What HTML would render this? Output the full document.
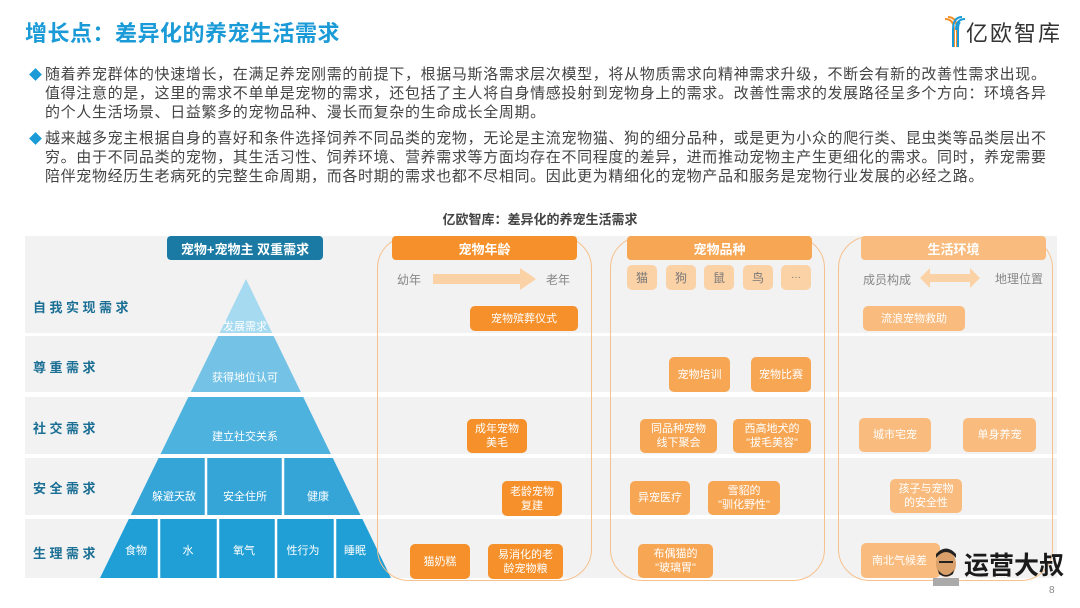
<!DOCTYPE html>
<html><head><meta charset="utf-8">
<style>
*{margin:0;padding:0;box-sizing:border-box}
body{width:1080px;height:608px;background:#fff;position:relative;overflow:hidden;font-family:"Liberation Sans","Noto Sans CJK SC",sans-serif}
.a{position:absolute}
.t{color:#1a9ad6;font-size:22px;font-weight:bold;left:25px;top:16px;letter-spacing:0.5px}
.p{left:45px;font-size:15px;line-height:19px;color:#444;width:1060px;letter-spacing:0.65px;white-space:nowrap}
.d{width:9px;height:9px;background:#1a9ad6;transform:rotate(45deg);left:31px}
.row{left:25px;width:1032px;background:#f2f2f2}
.rl{left:33px;font-size:13px;font-weight:bold;color:#1b6f94;letter-spacing:3.5px}
.b{color:#fff;font-size:11px;display:flex;align-items:center;justify-content:center;text-align:center;border-radius:5px;line-height:14px}
.o1{background:#f5902a}.o2{background:#f7a654}.o3{background:#f9bc7e}
.col{border:1.5px solid #f7c18f;border-radius:32px}
.h{color:#fff;font-weight:bold;font-size:13px;display:flex;align-items:center;justify-content:center;border-radius:4px}
.g{color:#888;font-size:12px}
</style></head><body>
<div class="a t">增长点：差异化的养宠生活需求</div>
<div class="a" style="left:944px;top:16px;width:22px;height:32px">
<svg width="22" height="32"><path d="M1 3 Q10 3 10 14 L10 31" stroke="#f5902a" stroke-width="2" fill="none"/><path d="M4 1 Q13 1 13 14 L13 31" stroke="#f5902a" stroke-width="2" fill="none"/><path d="M21 3 Q12 3 12 14" stroke="#1a9ad6" stroke-width="2" fill="none"/><path d="M18 1 Q9 1 9 14 L9 31" stroke="#1a9ad6" stroke-width="2" fill="none"/><path d="M16 6 Q14 8 14 14 L14 31" stroke="#1a9ad6" stroke-width="2" fill="none"/></svg></div>
<div class="a" style="left:966px;top:20px;font-size:22px;color:#333;letter-spacing:2px;line-height:28px">亿欧智库</div>

<div class="a d" style="top:70px"></div>
<div class="a p" style="top:65px">随着养宠群体的快速增长，在满足养宠刚需的前提下，根据马斯洛需求层次模型，将从物质需求向精神需求升级，不断会有新的改善性需求出现。<br>值得注意的是，这里的需求不单单是宠物的需求，还包括了主人将自身情感投射到宠物身上的需求。改善性需求的发展路径呈多个方向：环境各异<br>的个人生活场景、日益繁多的宠物品种、漫长而复杂的生命成长全周期。</div>
<div class="a d" style="top:134px"></div>
<div class="a p" style="top:129px">越来越多宠主根据自身的喜好和条件选择饲养不同品类的宠物，无论是主流宠物猫、狗的细分品种，或是更为小众的爬行类、昆虫类等品类层出不<br>穷。由于不同品类的宠物，其生活习性、饲养环境、营养需求等方面均存在不同程度的差异，进而推动宠物主产生更细化的需求。同时，养宠需要<br>陪伴宠物经历生老病死的完整生命周期，而各时期的需求也都不尽相同。因此更为精细化的宠物产品和服务是宠物行业发展的必经之路。</div>
<div class="a" style="left:0;width:1080px;top:209px;text-align:center;font-size:13px;font-weight:bold;color:#444">亿欧智库：差异化的养宠生活需求</div>

<div class="a row" style="top:236px;height:97px"></div>
<div class="a row" style="top:336px;height:56px"></div>
<div class="a row" style="top:397px;height:57px"></div>
<div class="a row" style="top:458px;height:57px"></div>
<div class="a row" style="top:519px;height:59px"></div>
<div class="a rl" style="top:297px">自我实现需求</div>
<div class="a rl" style="top:357px">尊重需求</div>
<div class="a rl" style="top:418px">社交需求</div>
<div class="a rl" style="top:478px">安全需求</div>
<div class="a rl" style="top:543px">生理需求</div>

<div class="a h" style="left:167px;top:236px;width:156px;height:24px;background:#1b7aa3;border-radius:4px">宠物+宠物主 双重需求</div>
<svg class="a" style="left:0;top:0" width="1080" height="608">
<defs><clipPath id="c"><polygon points="246,279 100,578 391,578"/></clipPath></defs>
<g clip-path="url(#c)">
<rect x="0" y="270" width="400" height="63" fill="#a6daf0"/>
<rect x="0" y="336" width="400" height="56" fill="#74c3e6"/>
<rect x="0" y="397" width="400" height="57" fill="#4eb2de"/>
<rect x="0" y="458" width="400" height="57" fill="#35a5d8"/>
<rect x="0" y="519" width="400" height="59" fill="#1f9fd5"/>
<g stroke="#fff" stroke-width="2.5"><line x1="206" y1="458" x2="206" y2="515"/><line x1="283" y1="458" x2="283" y2="515"/>
<line x1="159" y1="519" x2="159" y2="578"/><line x1="218" y1="519" x2="218" y2="578"/><line x1="276" y1="519" x2="276" y2="578"/><line x1="335" y1="519" x2="335" y2="578"/></g>
</g>
<g fill="#fff" font-size="11" text-anchor="middle" font-family="Liberation Sans,Noto Sans CJK SC,sans-serif">
<text x="245" y="330">发展需求</text><text x="245" y="381">获得地位认可</text><text x="245" y="440">建立社交关系</text>
<text x="174" y="500">躲避天敌</text><text x="245" y="500">安全住所</text><text x="318" y="500">健康</text>
<text x="136" y="554">食物</text><text x="188" y="554">水</text><text x="244" y="554">氧气</text><text x="303" y="554">性行为</text><text x="355" y="554">睡眠</text>
</g>
<polygon points="433,274 520,274 520,268 536,279 520,290 520,284 433,284" fill="#fbd1a6"/>
<polygon points="920,278 930,268 930,274 970,274 970,268 980,278 970,288 970,282 930,282 930,288" fill="#fbd1a6"/>
</svg>

<div class="a col" style="left:377px;top:236px;width:215px;height:345px"></div>
<div class="a col" style="left:610px;top:236px;width:215px;height:345px"></div>
<div class="a col" style="left:838px;top:236px;width:215px;height:345px"></div>
<div class="a h o1" style="left:392px;top:236px;width:185px;height:24px">宠物年龄</div>
<div class="a h o2" style="left:627px;top:236px;width:185px;height:24px">宠物品种</div>
<div class="a h o3" style="left:861px;top:236px;width:185px;height:24px">生活环境</div>
<div class="a g" style="left:397px;top:271px">幼年</div><div class="a g" style="left:546px;top:271px">老年</div>
<div class="a g" style="left:863px;top:271px">成员构成</div><div class="a g" style="left:995px;top:270px">地理位置</div>

<div class="a b" style="left:627px;top:265px;width:30px;height:25px;background:#fbd1a6;color:#777;font-size:12px">猫</div>
<div class="a b" style="left:666px;top:265px;width:30px;height:25px;background:#fbd1a6;color:#777;font-size:12px">狗</div>
<div class="a b" style="left:704px;top:265px;width:30px;height:25px;background:#fbd1a6;color:#777;font-size:12px">鼠</div>
<div class="a b" style="left:743px;top:265px;width:30px;height:25px;background:#fbd1a6;color:#777;font-size:12px">鸟</div>
<div class="a b" style="left:781px;top:265px;width:30px;height:25px;background:#fbd1a6;color:#777;font-size:10px">···</div>

<div class="a b o1" style="left:470px;top:306px;width:108px;height:25px">宠物殡葬仪式</div>
<div class="a b o1" style="left:467px;top:419px;width:60px;height:34px">成年宠物<br>美毛</div>
<div class="a b o1" style="left:502px;top:481px;width:60px;height:35px">老龄宠物<br>复建</div>
<div class="a b o1" style="left:410px;top:544px;width:60px;height:35px">猫奶糕</div>
<div class="a b o1" style="left:488px;top:544px;width:75px;height:35px">易消化的老<br>龄宠物粮</div>

<div class="a b o2" style="left:669px;top:357px;width:61px;height:35px">宠物培训</div>
<div class="a b o2" style="left:751px;top:357px;width:60px;height:35px">宠物比赛</div>
<div class="a b o2" style="left:640px;top:419px;width:77px;height:34px">同品种宠物<br>线下聚会</div>
<div class="a b o2" style="left:733px;top:419px;width:78px;height:34px">西高地犬的<br>"拔毛美容"</div>
<div class="a b o2" style="left:630px;top:481px;width:60px;height:34px">异宠医疗</div>
<div class="a b o2" style="left:708px;top:481px;width:72px;height:34px">雪貂的<br>"驯化野性"</div>
<div class="a b o2" style="left:638px;top:544px;width:75px;height:34px">布偶猫的<br>"玻璃胃"</div>

<div class="a b o3" style="left:863px;top:306px;width:102px;height:25px">流浪宠物救助</div>
<div class="a b o3" style="left:859px;top:418px;width:72px;height:34px">城市宅宠</div>
<div class="a b o3" style="left:963px;top:418px;width:73px;height:34px">单身养宠</div>
<div class="a b o3" style="left:890px;top:479px;width:72px;height:34px">孩子与宠物<br>的安全性</div>
<div class="a b o3" style="left:861px;top:543px;width:79px;height:35px;justify-content:flex-start;padding-left:11px">南北气候差</div>

<div class="a" style="left:931px;top:546px;width:30px;height:40px">
<svg width="30" height="40"><rect x="2" y="32" width="26" height="8" fill="#aaa"/><ellipse cx="15" cy="18" rx="10" ry="13" fill="#d9a06a"/><path d="M5 12 Q15 0 25 12 L25 8 Q15 -3 5 8Z" fill="#222"/><path d="M7 24 Q15 34 23 24 L22 28 Q15 33 8 28Z" fill="#222"/><rect x="8" y="15" width="14" height="2" fill="#222"/></svg></div>
<div class="a" style="left:964px;top:550px;font-size:25px;font-weight:bold;color:#1a1a1a;line-height:32px">运营大叔</div>
<div class="a" style="left:1049px;top:585px;font-size:10px;color:#888">8</div>
</body></html>
